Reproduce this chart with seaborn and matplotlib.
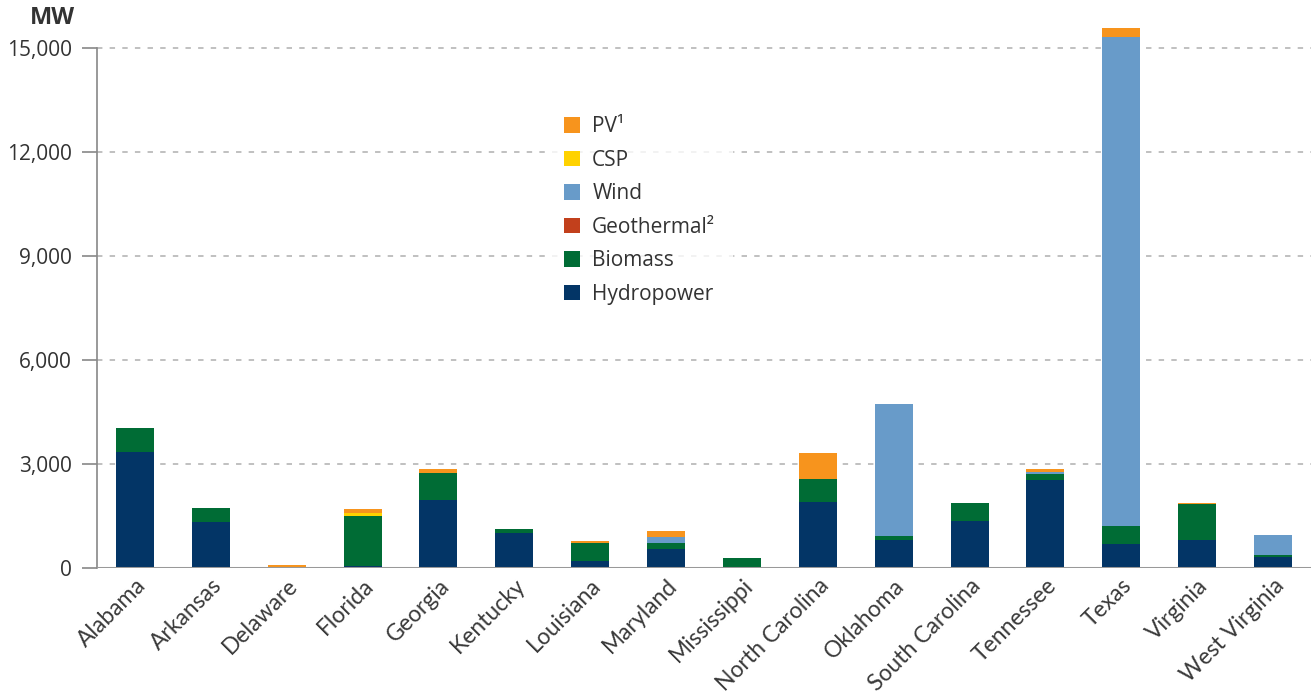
import numpy as np
import pandas as pd
import matplotlib
matplotlib.use("Agg")
import matplotlib.pyplot as plt
import matplotlib.transforms as mtransforms
from matplotlib.patches import Patch
import seaborn as sns

states = ["Alabama", "Arkansas", "Delaware", "Florida", "Georgia", "Kentucky",
          "Louisiana", "Maryland", "Mississippi", "North Carolina", "Oklahoma",
          "South Carolina", "Tennessee", "Texas", "Virginia", "West Virginia"]

# MW per technology
hydropower = [3340, 1340, 0, 60, 1950, 1010, 210, 560, 0, 1890, 820, 1370, 2530, 680, 820, 330]
biomass = [710, 380, 30, 1440, 790, 110, 500, 170, 300, 670, 90, 500, 175, 520, 1020, 40]
geothermal = [0] * 16
wind = [0, 0, 0, 0, 0, 0, 0, 150, 0, 0, 3820, 0, 60, 14130, 0, 580]
csp = [0, 0, 0, 75, 0, 0, 0, 0, 0, 0, 0, 0, 0, 0, 0, 0]
pv = [0, 0, 60, 120, 115, 0, 60, 175, 0, 760, 10, 0, 90, 240, 30, 0]

layers = ["Hydropower", "Biomass", "Geothermal", "Wind", "CSP", "PV"]
values = [hydropower, biomass, geothermal, wind, csp, pv]
colors = ["#033566", "#006c35", "#c2401c", "#689bc9", "#ffd200", "#f7941d"]
legend_labels = ["Hydropower", "Biomass", "Geothermal²", "Wind", "CSP", "PV¹"]

df = pd.DataFrame(dict(zip(layers, values)), index=states)
cum = df.cumsum(axis=1)

sns.set_style("white")
plt.rcParams["font.family"] = ["Open Sans", "DejaVu Sans"]
txt = "#333333"

fig = plt.figure(figsize=(13.11, 6.97), dpi=100)
ax = fig.add_axes([97 / 1311, 129 / 697, 1214 / 1311, 540.7 / 697])

# draw cumulative totals from top layer down so each layer shows on top of the one below
for name, col in zip(layers[::-1], colors[::-1]):
    sns.barplot(x=states, y=cum[name].values, color=col, saturation=1,
                width=0.5, ax=ax, zorder=3, linewidth=0, edgecolor="none")

ax.set_ylim(0, 15600)
ax.set_xlim(-0.5, 15.5)
ax.set_yticks(np.arange(0, 15001, 3000))
ax.set_yticklabels([f"{v:,}" for v in range(0, 15001, 3000)], fontsize=15, color=txt)
ax.set_xticks(range(len(states)))
ax.set_xticklabels(states, rotation=45, ha="right", rotation_mode="anchor",
                   fontsize=16.5, color="#3a3a3a", family=["Lato", "DejaVu Sans"])
shift = mtransforms.ScaledTranslation(5 / 100, 0, fig.dpi_scale_trans)
for lab in ax.get_xticklabels():
    lab.set_transform(lab.get_transform() + shift)
ax.tick_params(axis="y", length=11, width=1.2, color="#888888", pad=7, left=True)
ax.tick_params(axis="x", length=0, pad=5)

for v in range(3000, 15001, 3000):
    ax.axhline(v, color="#bbbbbb", lw=1.3, ls=(0, (3, 4)), zorder=1)
ax.axhline(0, color="#999999", lw=2.2, zorder=4)

for s in ["top", "right", "bottom"]:
    ax.spines[s].set_visible(False)
ax.spines["left"].set_bounds(0, 15000)
ax.spines["left"].set_color("#888888")
ax.spines["left"].set_linewidth(1.2)
ax.set_xlabel("")
ax.set_ylabel("")

fig.text(52 / 1311, 1 - 18 / 697, "MW", fontsize=17, fontweight="bold",
         color=txt, ha="center", va="center")

handles = [Patch(facecolor=c, edgecolor="none") for c in colors[::-1]]
leg = ax.legend(handles, legend_labels[::-1], loc="upper left",
                bbox_to_anchor=(440 / 1214, (540.7 - 62) / 540.7),
                frameon=True, fontsize=15, handlelength=0.75, handleheight=0.75,
                labelspacing=0.6, handletextpad=0.6, borderpad=0.8)
leg.get_frame().set_facecolor("white")
leg.get_frame().set_edgecolor("white")
leg.set_zorder(5)
for t in leg.get_texts():
    t.set_color(txt)

fig.savefig("out.png", dpi=100)
